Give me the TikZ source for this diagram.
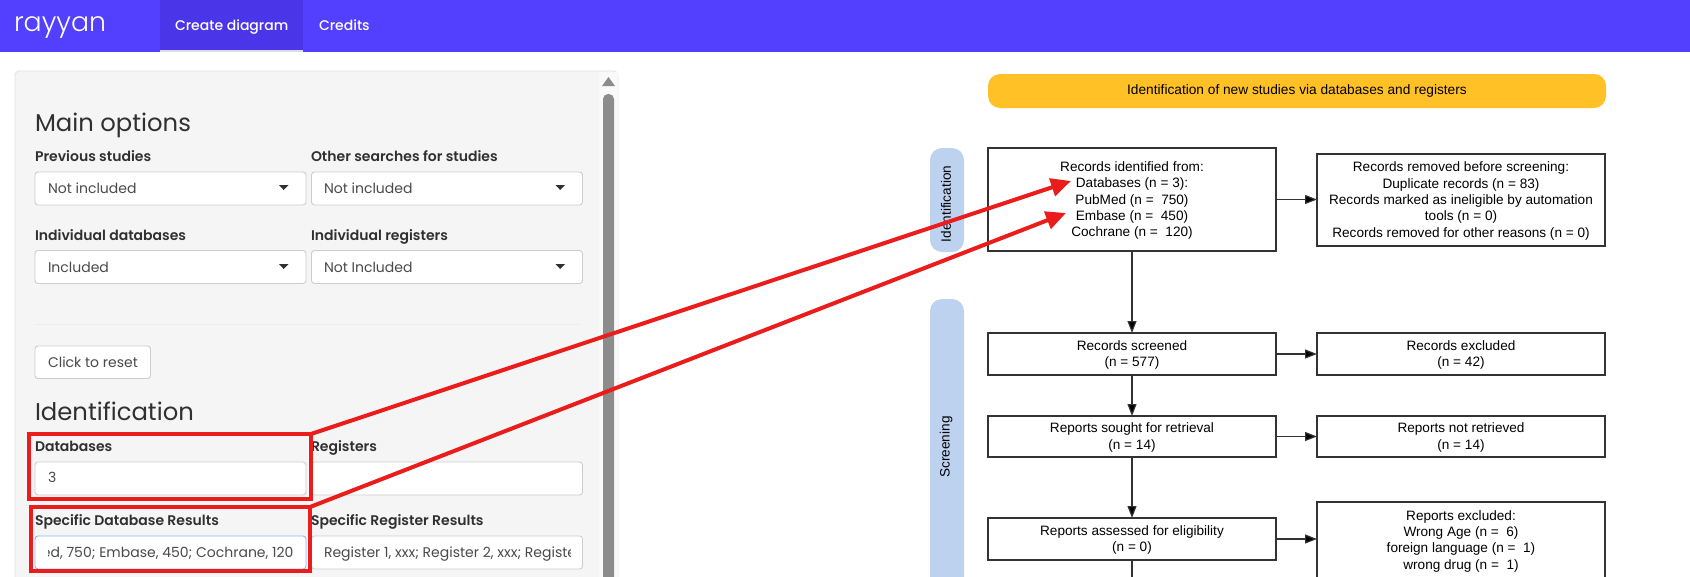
\documentclass[tikz,border=0pt]{standalone}
\usepackage{fontspec}
\setmainfont{Liberation Sans}
\newfontfamily\pop{Poppins}
\newfontfamily\popm{Poppins Medium}
\newfontfamily\pops{Poppins SemiBold}
\newfontfamily\popl{Poppins Light}
\usetikzlibrary{arrows.meta}
\definecolor{hdr}{HTML}{5340FF}
\definecolor{tabc}{HTML}{4A36E8}
\definecolor{tabline}{HTML}{DDDDE8}
\definecolor{yell}{HTML}{FFC125}
\definecolor{pill}{HTML}{BDD2EF}
\definecolor{redm}{HTML}{EA1C1C}
\definecolor{ink}{HTML}{303030}
\definecolor{soft}{HTML}{4A4A4A}
\definecolor{fieldb}{HTML}{CDCDCD}
\definecolor{focusb}{HTML}{86B7FE}
\newcommand{\fl}{\rule{0pt}{12pt}}
\tikzset{
  x=1pt,y=-1pt,
  txt/.style={inner sep=0pt,outer sep=0pt,anchor=base west},
  navtxt/.style={txt,text=white,font=\popm\fontsize{14}{16}\selectfont},
  headtxt/.style={txt,text=ink,font=\pop\fontsize{24.3}{28}\selectfont},
  labeltxt/.style={txt,text=ink,font=\pops\fontsize{14}{16}\selectfont},
  fieldtxt/.style={txt,text=soft,font=\pop\fontsize{14}{16}\selectfont},
  fieldbox/.style={draw=fieldb,fill=white,rounded corners=3pt,line width=.9pt,inner sep=0pt,outer sep=0pt,anchor=north west,minimum width=271pt,minimum height=33pt},
  flow/.style={draw=black!80,line width=1.2pt,fill=white,inner sep=0pt,outer sep=0pt,align=center,minimum width=288pt,
     font=\fontsize{13.6}{16.3}\selectfont},
  sidebar/.style={fill=pill,rounded corners=12pt},
  sidetxt/.style={inner sep=0pt,rotate=90,font=\fontsize{13.6}{16}\selectfont},
  flowarrow/.style={draw=black!80,line width=1.2pt,-{Triangle[length=12pt,width=9pt,fill=black]}},
  redbox/.style={draw=redm,line width=4pt,inner sep=0pt,outer sep=0pt,anchor=north west},
  redarrow/.style={draw=redm,line width=4pt,-{Triangle[length=20pt,width=18pt]}},
  caret/.style={fill=ink}
}
\begin{document}
\begin{tikzpicture}
\useasboundingbox (0,0) rectangle (1690,576);
\clip (0,0) rectangle (1690,576);
% header
\fill[hdr] (0,0) rectangle (1690,52);
\fill[tabc] (160,0) rectangle (303,50);
\fill[tabline] (160,50) rectangle (303,52);
\node[txt,text=white,font=\popl\fontsize{26.8}{30}\selectfont] (logo) at (14,31) {rayyan};
\node[navtxt] (navcreate) at (175,30) {Create diagram};
\node[navtxt] (navcredits) at (319,30) {Credits};
% panel
\draw[draw=black!11,fill=black!4,rounded corners=4pt,line width=.9pt] (15,71) rectangle (618,600);
\fill[black!2.5] (599,72) rectangle (617.5,600);
\fill[black!45] (602,86) -- (615,86) -- (608.5,77) -- cycle;
\fill[black!45,rounded corners=5pt] (603,94) rectangle (614,600);
\node[headtxt] (mainopt) at (35,131) {Main options};
\node[labeltxt] (lprev) at (35,161) {Previous studies};
\node[labeltxt] (loth) at (311,161) {Other searches for studies};
\node[fieldbox] (f1) at (35,172) {};
\node[fieldbox] (f2) at (311.5,172) {};
\node[fieldtxt] (t1) at (48,193) {Not included};
\node[fieldtxt] (t2) at (324,193) {Not included};
\fill[caret] (279,185) -- (288.5,185) -- (283.7,190) -- cycle;
\fill[caret] (555.5,185) -- (565,185) -- (560.2,190) -- cycle;
\node[labeltxt] (lind) at (35,240) {Individual databases};
\node[labeltxt] (lreg) at (311,240) {Individual registers};
\node[fieldbox] (f3) at (35,250.5) {};
\node[fieldbox] (f4) at (311.5,250.5) {};
\node[fieldtxt] (t3) at (48,272.5) {Included};
\node[fieldtxt] (t4) at (324,272.5) {Not Included};
\fill[caret] (279,264) -- (288.5,264) -- (283.7,269) -- cycle;
\fill[caret] (555.5,264) -- (565,264) -- (560.2,269) -- cycle;
\draw[black!7,line width=.8pt] (35,324) -- (580,324);
\node[fieldbox,minimum width=115.5pt,minimum height=32.5pt] (btn) at (35,346) {};
\node[fieldtxt] (tbtn) at (48,367) {Click to reset};
\node[headtxt] (ident) at (35,420) {Identification};
\node[labeltxt] (ldb) at (35,451) {Databases};
\node[labeltxt] (lrg) at (311,451) {Registers};
\node[fieldbox] (f5) at (35,462) {};
\node[fieldbox] (f6) at (311.5,462) {};
\node[fieldtxt] (t5) at (48,482) {3};
\node[labeltxt] (lsd) at (35,525) {Specific Database Results};
\node[labeltxt] (lsr) at (311,525) {Specific Register Results};
\node[fieldbox,draw=focusb] (f7) at (35,536) {};
\node[fieldbox] (f8) at (311.5,536) {};
\begin{scope}
\clip (48,536) rectangle (300,568);
\node[fieldtxt,anchor=base east] (t7) at (293.5,557) {ed, 750; Embase, 450; Cochrane, 120};
\end{scope}
\begin{scope}
\clip (324,536) rectangle (570,568);
\node[fieldtxt] (t8) at (324,557) {Register 1, xxx; Register 2, xxx; Registe};
\end{scope}
% flow diagram
\fill[yell,rounded corners=12pt] (988,74) rectangle (1606,108);
\node[inner sep=0pt,font=\fontsize{13.7}{16}\selectfont] (title) at (1297,91) {Identification of new studies via databases and registers};
\fill[sidebar] (930,148) rectangle (964,252);
\node[sidetxt] (sid) at (946,204) {Identification};
\fill[sidebar] (930,299) rectangle (964,620);
\node[sidetxt] (sscr) at (946,447) {Screening};
\node[flow,minimum height=103pt] (b1) at (1132,199.5) {\fl Records identified from:\\Databases (n = 3):\\PubMed (n =\ \ 750)\\Embase (n =\ \ 450)\\Cochrane (n =\ \ 120)};
\node[flow,minimum height=92pt] (r1) at (1461,200) {\fl Records removed before screening:\\Duplicate records (n = 83)\\Records marked as ineligible by automation\\tools (n = 0)\\Records removed for other reasons (n = 0)};
\node[flow,minimum height=42pt] (b2) at (1132,354) {\fl Records screened\\(n = 577)};
\node[flow,minimum height=42pt] (r2) at (1461,354) {\fl Records excluded\\(n = 42)};
\node[flow,minimum height=41pt] (b3) at (1132,436.5) {\fl Reports sought for retrieval\\(n = 14)};
\node[flow,minimum height=41pt] (r3) at (1461,436.5) {\fl Reports not retrieved\\(n = 14)};
\node[flow,minimum height=42pt] (b4) at (1132,539) {\fl Reports assessed for eligibility\\(n = 0)};
\node[flow,minimum height=76pt,anchor=north] (r4) at (1461,502) {\fl Reports excluded:\\Wrong Age (n =\ \ 6)\\foreign language (n =\ \ 1)\\wrong drug (n =\ \ 1)};
\coordinate (bottomend) at (1132,580);
\draw[flowarrow] (b1) -- (b2);
\draw[flowarrow] (b2) -- (b3);
\draw[flowarrow] (b3) -- (b4);
\draw[draw=black!80,line width=1.2pt] (b4) -- (bottomend);
\draw[flowarrow] (b1.east) -- (b1.east -| r1.west);
\draw[flowarrow] (b2) -- (r2);
\draw[flowarrow] (b3) -- (r3);
\draw[flowarrow] (b4.east) -- (b4.east -| r4.west);
% red annotations
\node[redbox,minimum width=282pt,minimum height=65pt] (rb1) at (29,434) {};
\node[redbox,minimum width=279pt,minimum height=64pt] (rb2) at (31,507) {};
\coordinate (tip1) at (1071,181);
\coordinate (tip2) at (1066,213);
\draw[redarrow] (rb1.north east) -- (tip1);
\draw[redarrow] (rb2.north east) -- (tip2);
\end{tikzpicture}
\end{document}
